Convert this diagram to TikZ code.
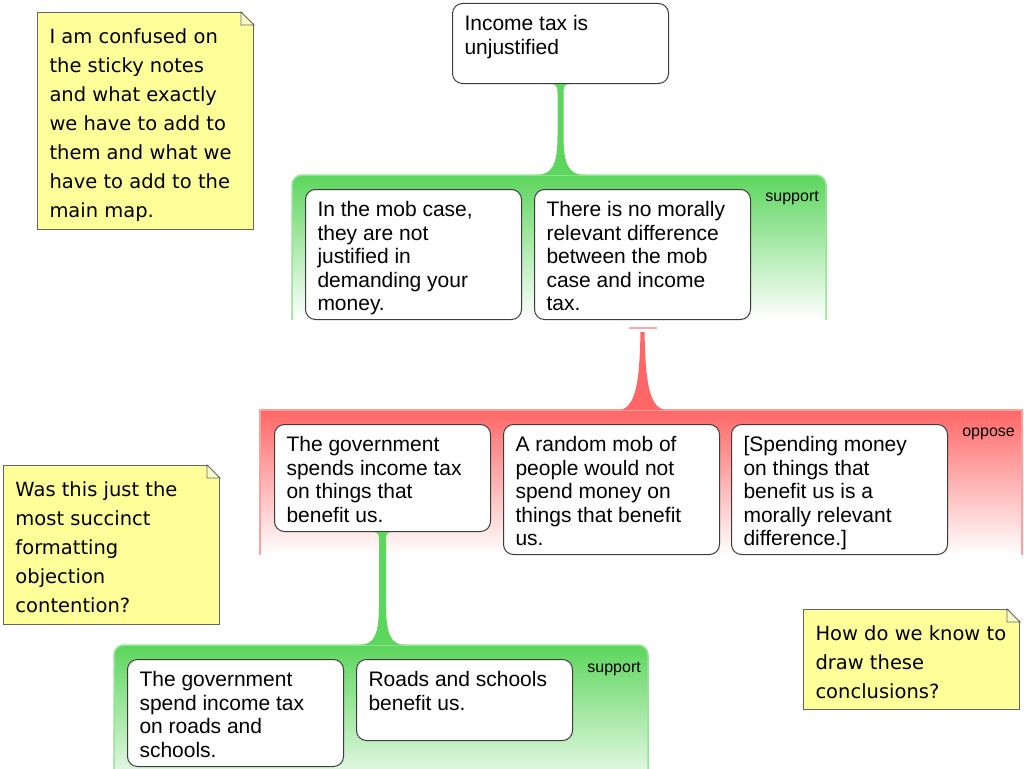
\documentclass[tikz,border=0pt]{standalone}
\usepackage{fontspec}
\setmainfont{Liberation Sans}
\newfontfamily\notefont{DejaVu Sans}
\usepackage{xcolor}
\usepackage{tikz}
\usetikzlibrary{calc}

\definecolor{grn}{RGB}{92,214,92}
\definecolor{grnside}{RGB}{150,228,150}
\definecolor{redc}{RGB}{255,102,102}
\definecolor{redside}{RGB}{255,160,160}
\definecolor{pinkcap}{RGB}{255,170,170}
\definecolor{boxline}{RGB}{60,60,60}
\definecolor{noteyellow}{RGB}{255,255,153}
\definecolor{foldyellow}{RGB}{255,255,204}
\definecolor{notegray}{RGB}{100,100,100}

\newcommand\claimtext[2]{\parbox[t][#1pt][t]{192pt}{\raggedright\strut #2}}
\newcommand\dogear[1]{%
  \fill[white] ([xshift=-13pt,yshift=1pt]#1.north east) -- ([xshift=1pt,yshift=1pt]#1.north east) -- ([xshift=1pt,yshift=-13pt]#1.north east) -- cycle;
  \filldraw[fill=foldyellow, draw=notegray, line width=0.8pt] ([xshift=-13pt]#1.north east) -- ([xshift=-13pt,yshift=-13pt]#1.north east) -- ([yshift=-13pt]#1.north east) -- cycle;}

\tikzset{
  claim/.style={draw=boxline, fill=white, rounded corners=10pt, line width=1pt, anchor=north west,
    inner xsep=12pt, inner ysep=11pt, font=\fontsize{21}{23.5}\selectfont},
  sticky/.style={draw=notegray, fill=noteyellow, line width=1pt, anchor=north west,
    inner xsep=12pt, inner ysep=11pt, font=\notefont\fontsize{19.5}{29}\selectfont},
  kind/.style={anchor=east, inner sep=0pt, font=\fontsize{16}{18}\selectfont}
}

\begin{document}
\begin{tikzpicture}[x=1pt, y=-1pt]

    \useasboundingbox (0,0) rectangle (1024,768);
    \fill[white] (0,0) rectangle (1024,768);

    % Panels
    \shade[top color=grn, bottom color=white, rounded corners=10pt] (292,175) rectangle (826,320);
    \draw[grnside, line width=1.5pt, rounded corners=10pt] (292,320) -- (292,175) -- (826,175) -- (826,320);
    \shade[top color=redc, bottom color=white] (260,410) rectangle (1022,555);
    \draw[redside, line width=1.5pt] (260,555) -- (260,410) -- (1022,410) -- (1022,555);
    \shade[top color=grn, bottom color=white, rounded corners=10pt] (114,645) rectangle (648,800);
    \draw[grnside, line width=1.5pt, rounded corners=10pt] (114,800) -- (114,645) -- (648,645) -- (648,800);

    \coordinate (grpA) at (560,175);
    \coordinate (grpB) at (642,410);
    \coordinate (grpC) at (381,645);

    \node[kind] (supA) at (819,198) {support};
    \node[kind] (oppB) at (1015,434) {oppose};
    \node[kind] (supC) at (641,669) {support};

    % Claims
    \node[claim] (inc) at (452,3) {\claimtext{58}{Income tax is\\unjustified}};
    \node[claim] (mob) at (305,189) {\claimtext{108}{In the mob case,\\they are not\\justified in\\demanding your\\money.}};
    \node[claim] (nodiff) at (534,189) {\claimtext{108}{There is no morally\\relevant difference\\between the mob\\case and income\\tax.}};
    \node[claim] (govsp) at (274,424) {\claimtext{85}{The government\\spends income tax\\on things that\\benefit us.}};
    \node[claim] (rmob) at (503,424) {\claimtext{108}{A random mob of\\people would not\\spend money on\\things that benefit\\us.}};
    \node[claim] (spend) at (731,424) {\claimtext{108}{[Spending money\\on things that\\benefit us is a\\morally relevant\\difference.]}};
    \node[claim] (roads) at (127,659) {\claimtext{85}{The government\\spend income tax\\on roads and\\schools.}};
    \node[claim] (schools) at (356,659) {\claimtext{59}{Roads and schools\\benefit us.}};

    % Stems
    \fill[grn] let \p1=(inc.south), \p2=(grpA) in
      (\x1-11pt,\y1) .. controls (\x1-4pt,\y1) and (\x1-3pt,\y1-2pt) .. (\x1-3pt,\y1-8pt)
      -- (\x1-3pt,\y2+40pt) .. controls (\x1-3pt,\y2+10pt) and (\x1-8pt,\y2) .. (\x1-25pt,\y2)
      -- (\x1+25pt,\y2) .. controls (\x1+8pt,\y2) and (\x1+3pt,\y2+10pt) .. (\x1+3pt,\y2+40pt)
      -- (\x1+3pt,\y1-8pt) .. controls (\x1+3pt,\y1-2pt) and (\x1+4pt,\y1) .. (\x1+11pt,\y1) -- cycle;

    \draw[pinkcap, line width=2pt] ([xshift=-14pt,yshift=-8pt]nodiff.south) -- ([xshift=14pt,yshift=-8pt]nodiff.south);
    \fill[redc] let \p1=(nodiff.south), \p2=(grpB) in
      (\x1-2pt,\y1-12pt) .. controls (\x1-3pt,\y2+35pt) and (\x1-5pt,\y2+4pt) .. (\x1-22pt,\y2)
      -- (\x1+22pt,\y2) .. controls (\x1+5pt,\y2+4pt) and (\x1+3pt,\y2+35pt) .. (\x1+2pt,\y1-12pt) -- cycle;

    \fill[grn] let \p1=(govsp.south), \p2=(grpC) in
      (\x1-11pt,\y1) .. controls (\x1-4pt,\y1) and (\x1-3.5pt,\y1-2pt) .. (\x1-3.5pt,\y1-8pt)
      -- (\x1-3.5pt,\y2+42pt) .. controls (\x1-3.5pt,\y2+10pt) and (\x1-8pt,\y2) .. (\x1-24pt,\y2)
      -- (\x1+24pt,\y2) .. controls (\x1+8pt,\y2) and (\x1+3.5pt,\y2+10pt) .. (\x1+3.5pt,\y2+42pt)
      -- (\x1+3.5pt,\y1-8pt) .. controls (\x1+3.5pt,\y1-2pt) and (\x1+4pt,\y1) .. (\x1+11pt,\y1) -- cycle;

    % Sticky notes
    \node[sticky] (note1) at (37,12) {\claimtext{195}{I am confused on\\the sticky notes\\and what exactly\\we have to add to\\them and what we\\have to add to the\\main map.}};
    \dogear{note1}
    \node[sticky] (note2) at (3,465) {\claimtext{137}{Was this just the\\most succinct\\formatting\\objection\\contention?}};
    \dogear{note2}
    \node[sticky] (note3) at (803,609) {\claimtext{78}{How do we know to\\draw these\\conclusions?}};
    \dogear{note3}

\end{tikzpicture}
\end{document}
